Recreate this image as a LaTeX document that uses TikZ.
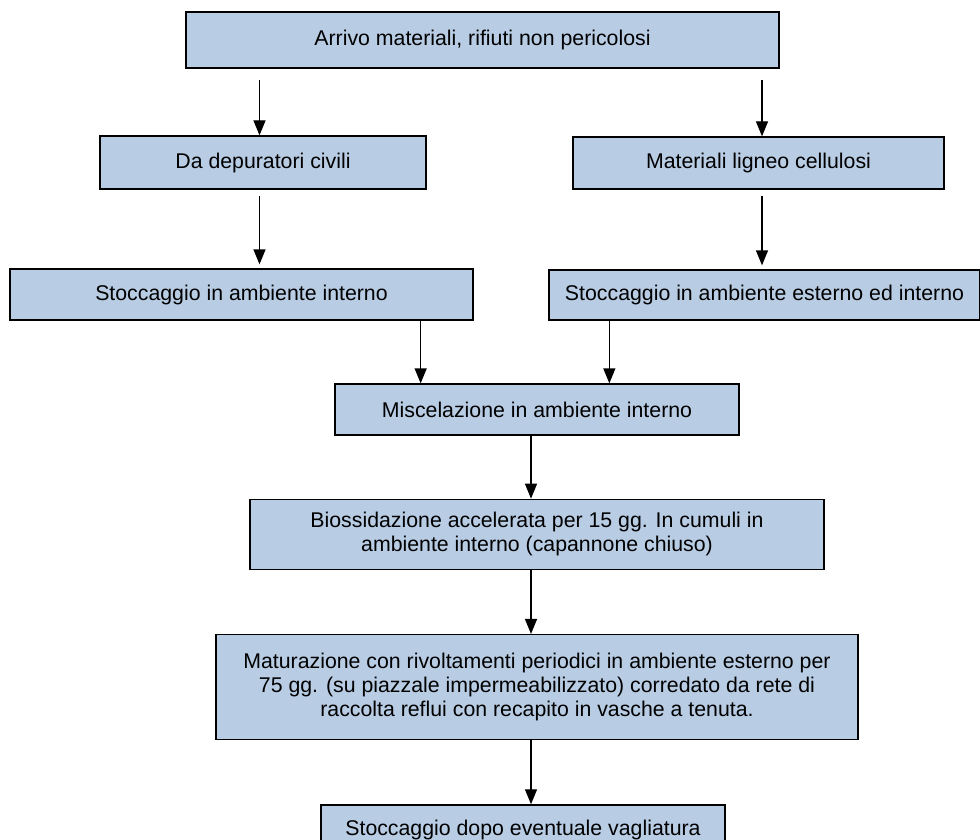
\documentclass[tikz,border=0pt]{standalone}
\usepackage{fontspec}
\setmainfont{Liberation Sans}
\usetikzlibrary{positioning, arrows.meta}

\definecolor{boxblue}{RGB}{184,204,228}

\begin{document}
\begin{tikzpicture}[
    x=1pt, y=1pt,
    node distance=64pt,
    stage/.style={rectangle, draw=black, line width=1.3pt, fill=boxblue, inner sep=0pt, align=center, font=\fontsize{21.3}{24}\selectfont},
    flow/.style={-{Triangle[width=12pt,length=15pt]}, line width=1.3pt}
]

\useasboundingbox (0,0) rectangle (980,-840);

% Nodes
\node[stage, minimum width=593pt, minimum height=56pt] (arrivo) at (482.5,-40) {Arrivo materiali, rifiuti non pericolosi};
\node[stage, minimum width=326pt, minimum height=53pt] (depur) at (263,-162.5) {Da depuratori civili};
\node[stage, minimum width=371pt, minimum height=52pt] (mater) at (758.5,-163) {Materiali ligneo cellulosi};
\node[stage, minimum width=463pt, minimum height=51pt] (stoca) at (241.5,-294.5) {Stoccaggio in ambiente interno};
\node[stage, minimum width=431pt, minimum height=50pt] (stocb) at (764.5,-295) {Stoccaggio in ambiente esterno ed interno};
\node[stage, minimum width=404pt, minimum height=51pt] (misc) at (537,-409.5) {Miscelazione in ambiente interno};
\node[stage, minimum width=574pt, minimum height=70pt, below=63pt of misc] (bios) {Biossidazione accelerata per 15 gg. In cumuli in\\ambiente interno (capannone chiuso)};
\node[stage, minimum width=642pt, minimum height=105pt, below=of bios] (matur) {Maturazione con rivoltamenti periodici in ambiente esterno per\\75 gg. (su piazzale impermeabilizzato) corredato da rete di\\raccolta reflui con recapito in vasche a tenuta.};
\node[stage, minimum width=404pt, minimum height=51pt, below=of matur, xshift=-14pt] (vaglio) {Stoccaggio dopo eventuale vagliatura};

% Edges
\draw[flow, shorten <=11pt] ([xshift=-3.5pt]arrivo.south -| depur.north) -- ([xshift=-3.5pt]depur.north);
\draw[flow, shorten <=11pt] ([xshift=3.5pt]arrivo.south -| mater.north) -- ([xshift=3.5pt]mater.north);
\draw[flow, shorten <=6pt, shorten >=4pt] ([xshift=-3.5pt]depur.south) -- ([xshift=-3.5pt]depur.south |- stoca.north);
\draw[flow, shorten <=6pt, shorten >=4pt] ([xshift=3.5pt]mater.south) -- ([xshift=3.5pt]mater.south |- stocb.north);
\draw[flow] ([xshift=-53pt]stoca.south east) -- ([xshift=-53pt]stoca.south east |- misc.north);
\draw[flow] ([xshift=61pt]stocb.south west) -- ([xshift=61pt]stocb.south west |- misc.north);
\draw[flow] ([xshift=-6pt]misc.south) -- ([xshift=-6pt]misc.south |- bios.north);
\draw[flow] ([xshift=-6pt]bios.south) -- ([xshift=-6pt]bios.south |- matur.north);
\draw[flow] ([xshift=8pt]vaglio.north |- matur.south) -- ([xshift=8pt]vaglio.north);

\end{tikzpicture}
\end{document}
